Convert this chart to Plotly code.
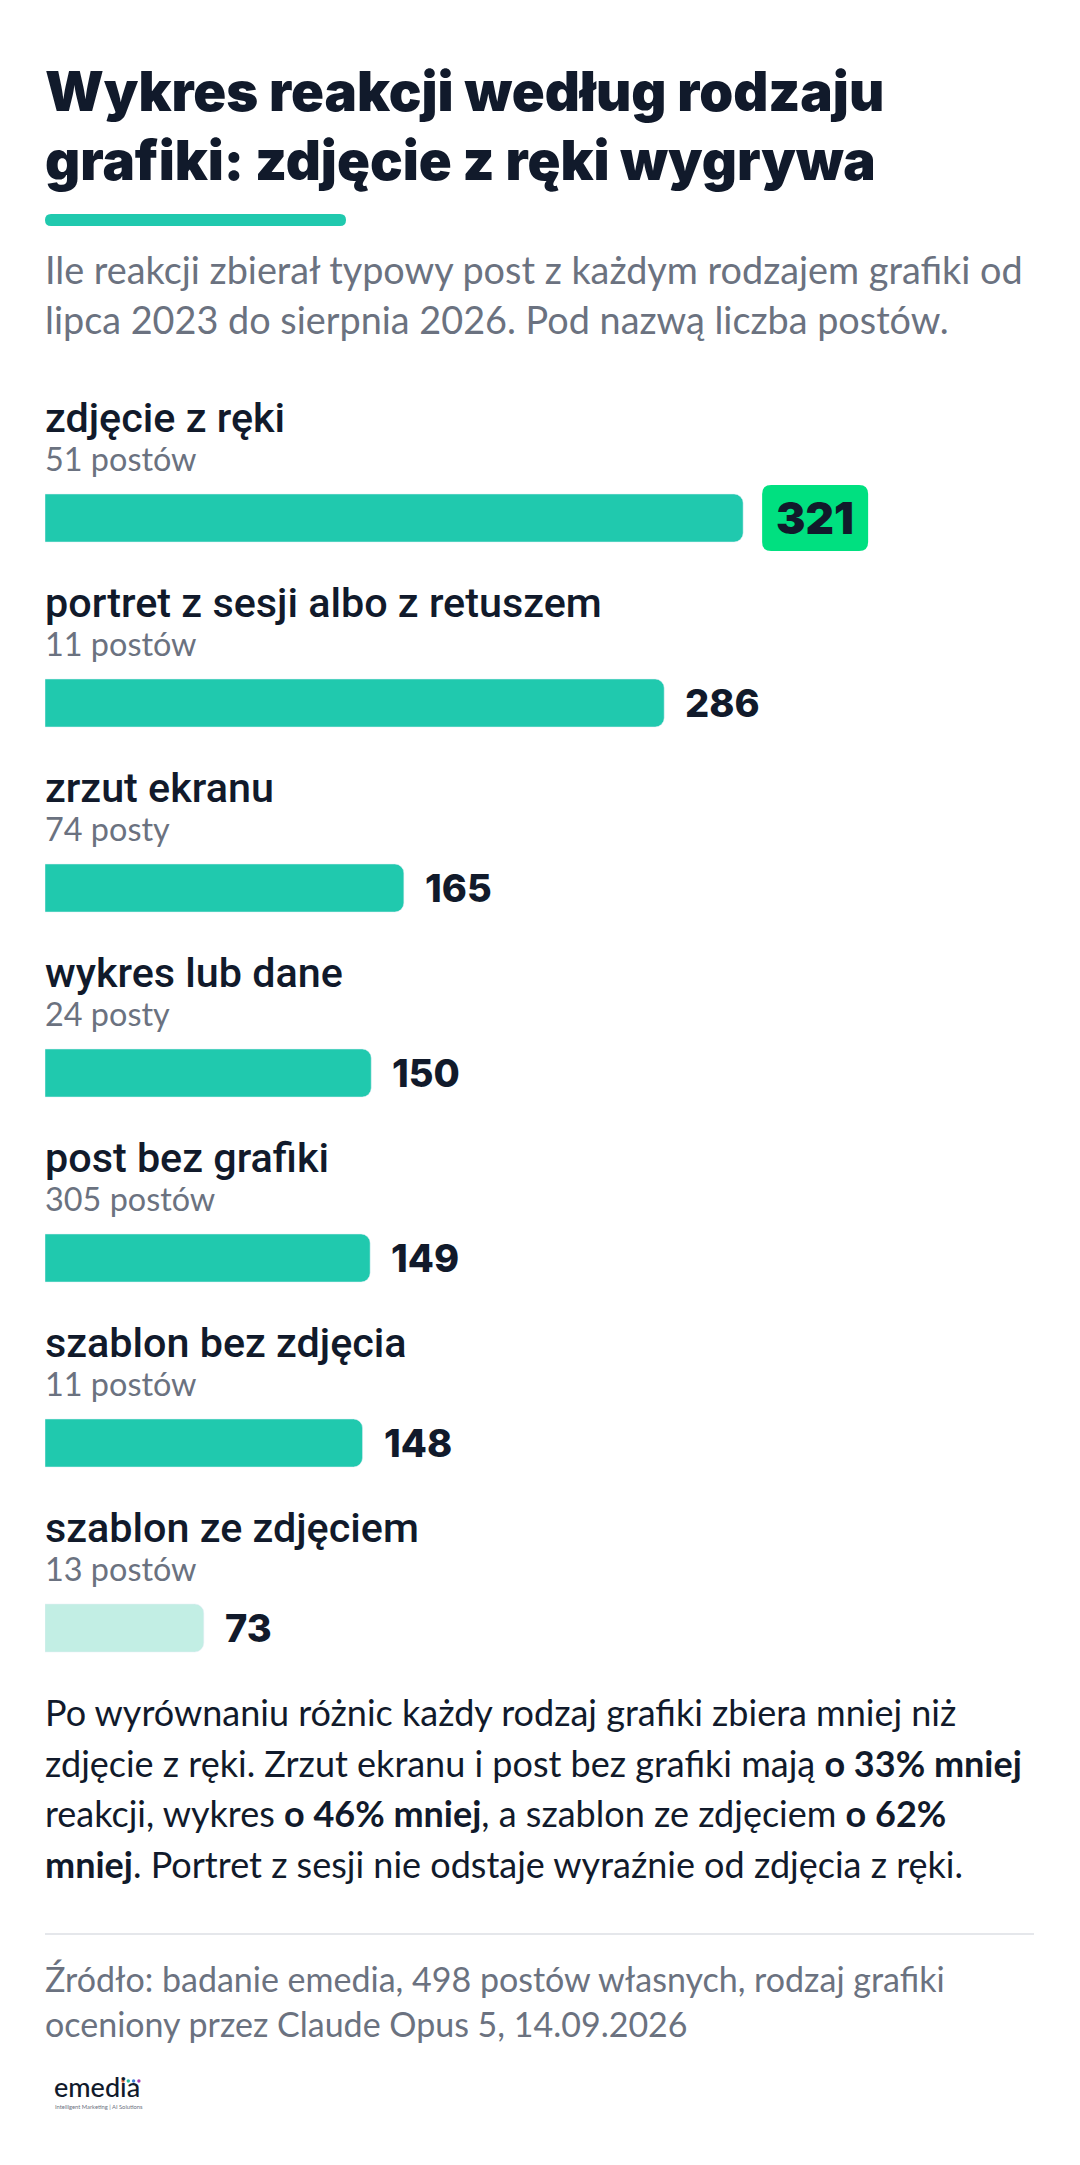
import plotly.graph_objects as go

W = 1080
H = 2165
# strona ma margines 8 px, wiec sam wykres jest mniejszy i wszystko liczone z tym przesunieciem
PAGE = 8
FW = W - 2 * PAGE
FH = H - 2 * PAGE

categories = ["zdjęcie z ręki", "portret z sesji albo z retuszem", "zrzut ekranu", "wykres lub dane",
              "post bez grafiki", "szablon bez zdjęcia", "szablon ze zdjęciem"]
# dlugosci slupkow, etykiety z napisow obok nich
bar_lengths = [321, 284.7, 165, 150, 149.5, 146, 73]
value_labels = ["321", "286", "165", "150", "149", "148", "73"]
post_counts = ["51 postów", "11 postów", "74 posty", "24 posty", "305 postów", "11 postów", "13 postów"]
bar_colors = ["#20c9ae", "#20c9ae", "#20c9ae", "#20c9ae", "#20c9ae", "#20c9ae", "#c2eee4"]

title_lines = ["Wykres reakcji według rodzaju", "grafiki: zdjęcie z ręki wygrywa"]
subtitle_lines = ["Ile reakcji zbierał typowy post z każdym rodzajem grafiki od",
                  "lipca 2023 do sierpnia 2026. Pod nazwą liczba postów."]
body_lines = ["Po wyrównaniu różnic każdy rodzaj grafiki zbiera mniej niż",
              "zdjęcie z ręki. Zrzut ekranu i post bez grafiki mają <b>o 33% mniej</b>",
              "reakcji, wykres <b>o 46% mniej</b>, a szablon ze zdjęciem <b>o 62%</b>",
              "<b>mniej</b>. Portret z sesji nie odstaje wyraźnie od zdjęcia z ręki."]
source_lines = ["Źródło: badanie emedia, 498 postów własnych, rodzaj grafiki",
                "oceniony przez Claude Opus 5, 14.09.2026"]
logo_dot_colors = ["#e8734a", "#2bb8a0", "#3f7fd6", "#a83fb0"]

FONT = "Lato"
DARK = "#111a2b"
GRAY = "#6b7280"


def px(x):
    return (x - PAGE) / FW


def py(y):
    return 1 - (y - PAGE) / FH


def text_at(x, y, text, size, color, weight=400, family=FONT):
    return dict(xref="paper", yref="paper", x=px(x - 2), y=py(y), text=text, showarrow=False,
                xanchor="left", yanchor="middle", align="left",
                font=dict(family=family, size=size, color=color, weight=weight))


def round_rect(x0, x1, y0, y1, r):
    return (f"M {x0+r} {y0} L {x1-r} {y0} Q {x1} {y0} {x1} {y0+r} L {x1} {y1-r} Q {x1} {y1} {x1-r} {y1} "
            f"L {x0+r} {y1} Q {x0} {y1} {x0} {y1-r} L {x0} {y0+r} Q {x0} {y0} {x0+r} {y0} Z")


fig = go.Figure()
fig.add_trace(go.Bar(x=bar_lengths, y=categories, orientation="h", marker=dict(color=bar_colors, cornerradius=9),
                     hoverinfo="skip", showlegend=False))

annotations = []
for i, line in enumerate(title_lines):
    annotations.append(text_at(45, 91 + i * 69, line, 54.4, DARK, 900, "Inter"))
for i, line in enumerate(subtitle_lines):
    annotations.append(text_at(45, 269.5 + i * 50, line, 37.8, GRAY))

for i, (cat, count, val, label) in enumerate(zip(categories, post_counts, bar_lengths, value_labels)):
    annotations.append(dict(xref="paper", yref="y", x=px(43), y=cat, yshift=100, text=cat, showarrow=False,
                            xanchor="left", font=dict(family="Roboto", size=41.3, color=DARK, weight=500)))
    annotations.append(dict(xref="paper", yref="y", x=px(43), y=cat, yshift=60, text=count, showarrow=False,
                            xanchor="left", font=dict(family=FONT, size=32.4, color=GRAY)))
    if i == 0:
        annotations.append(dict(xref="x", yref="y", x=val, y=cat, xshift=72, text=label, showarrow=False,
                                xanchor="center", font=dict(family="Inter", size=44, color=DARK, weight=900)))
    else:
        annotations.append(dict(xref="x", yref="y", x=val, y=cat, xshift=19, text=label, showarrow=False,
                                xanchor="left", font=dict(family="Inter", size=38, color=DARK, weight=800)))

for i, line in enumerate(body_lines):
    annotations.append(text_at(45, 1712 + i * 50.7, line, 36, DARK))
for i, line in enumerate(source_lines):
    annotations.append(text_at(45, 1978 + i * 45, line, 34, GRAY))

annotations.append(text_at(54, 2086, "emedia", 27, DARK, 500))
annotations.append(text_at(55, 2106, "Intelligent Marketing | AI Solutions", 5.8, GRAY))

shapes = [
    # kreska pod tytulem
    dict(type="path", xref="paper", yref="paper", xsizemode="pixel", ysizemode="pixel", xanchor=px(45), yanchor=py(220),
         path=round_rect(0, 301, -6, 6, 6), fillcolor="#20c9ae", line_width=0),
    # tlo pod najwyzsza wartoscia
    dict(type="path", xref="x", yref="y", xsizemode="pixel", ysizemode="pixel", xanchor=bar_lengths[0],
         yanchor=categories[0], path=round_rect(19, 125, -33, 33, 9), fillcolor="#00e080", line_width=0, layer="below"),
    dict(type="line", xref="paper", yref="paper", x0=px(45), x1=px(1034), y0=py(1934), y1=py(1934),
         line=dict(color="#e5e7eb", width=2)),
]
for i, c in enumerate(logo_dot_colors):
    shapes.append(dict(type="circle", xref="paper", yref="paper", xsizemode="pixel", ysizemode="pixel",
                       xanchor=px(123 + i * 5.3), yanchor=py(2081), x0=-1.7, x1=1.7, y0=-1.7, y1=1.7,
                       fillcolor=c, line_width=0))

fig.update_layout(
    width=FW, height=FH, margin=dict(l=0, r=0, t=0, b=0), paper_bgcolor="white", plot_bgcolor="white",
    bargap=1 - 48 / 185, annotations=annotations, shapes=shapes,
    xaxis=dict(domain=[px(45), px(1035)], range=[0, 455.2], visible=False),
    yaxis=dict(domain=[py(1720.5), py(425.5)], range=[6.5, -0.5], visible=False),
)

fig.write_html("out.html")
